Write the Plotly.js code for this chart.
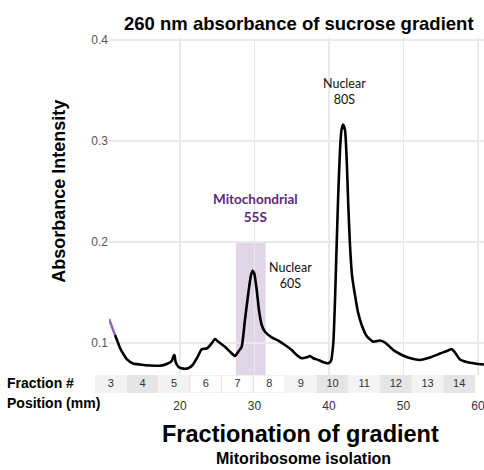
<!DOCTYPE html>
<html><head><meta charset="utf-8">
<script src="https://cdn.plot.ly/plotly-3.0.1.min.js"></script>
<style>html,body{margin:0;padding:0;background:#fff}#chart{width:484px;height:470px}</style>
</head><body><div id="chart"></div>
<script>
// ---- data ----
const leadPositionMm = [10.47, 10.87, 11.28];
const leadAbsorbance = [0.1238, 0.1149, 0.1079];

const positionMm = [11.28, 11.54, 11.95, 12.48, 12.89, 13.69, 14.63, 15.97, 17.32, 18.21, 18.89, 19.13, 19.26, 19.40, 19.77,
  20.44, 21.11, 21.70, 22.38, 22.91, 23.66, 24.26, 24.70, 25.14, 26.04, 26.71, 27.38, 27.83, 28.28, 28.72, 29.17, 29.53,
  29.76, 29.97, 30.30, 30.60, 30.97, 31.41, 32.31, 33.19, 34.09, 34.99, 35.66, 36.34, 37.01, 37.45, 37.89, 38.56, 39.46,
  39.91, 40.27, 40.58, 40.81, 41.03, 41.25, 41.48, 41.68, 41.88, 42.15, 42.38, 42.59, 42.82, 43.09, 43.49, 43.89, 44.39,
  45.06, 45.95, 46.85, 47.52, 48.63, 49.53, 50.60, 52.21, 53.56, 54.90, 56.01, 56.47, 56.91, 57.58, 58.48, 59.60, 60.81];
const absorbance = [0.1079, 0.1030, 0.0950, 0.0881, 0.0837, 0.0797, 0.0787, 0.0777, 0.0775, 0.0792, 0.0822, 0.0871, 0.0881, 0.0815, 0.0765,
  0.0746, 0.0750, 0.0782, 0.0864, 0.0938, 0.0948, 0.0997, 0.1040, 0.1013, 0.0963, 0.0914, 0.0871, 0.0914, 0.0963, 0.1228, 0.1492, 0.1673,
  0.1716, 0.1690, 0.1525, 0.1327, 0.1178, 0.1112, 0.1056, 0.1023, 0.0980, 0.0931, 0.0881, 0.0849, 0.0858, 0.0871, 0.0849, 0.0832, 0.0805,
  0.0799, 0.0822, 0.1000, 0.1426, 0.1970, 0.2485, 0.2911, 0.3109, 0.3163, 0.3109, 0.2812, 0.2366, 0.1970, 0.1673, 0.1475, 0.1307, 0.1178,
  0.1069, 0.1013, 0.1025, 0.1005, 0.0931, 0.0891, 0.0856, 0.0832, 0.0856, 0.0896, 0.0926, 0.0941, 0.0906, 0.0837, 0.0812, 0.0797, 0.0787];

const fractionNumbers = [3, 4, 5, 6, 7, 8, 9, 10, 11, 12, 13, 14];
const xTickValues = [20, 30, 40, 50, 60];
const yTickValues = [0.1, 0.2, 0.3, 0.4];
const yTickLabels = ['0.1', '0.2', '0.3', '0.4'];
const mitoWindowMm = [27.5, 31.5];
const mitoWindowTop = 0.2;

// ---- styles ----
const cellFills = ['#f2f2f2', '#e5e5e5', '#f3f3f3', '#ffffff', '#ffffff', '#ffffff', '#f4f4f4', '#e5e5e5', '#f4f4f4', '#e5e5e5', '#f3f3f3', '#e5e5e5'];
const gridColor = '#e9e9e9';
const sans = 'Liberation Sans, Arial, sans-serif';
const labelFont = 'Lato, sans-serif';

const traces = [
  {x: leadPositionMm, y: leadAbsorbance, type: 'scatter', mode: 'lines', xaxis: 'x', yaxis: 'y',
   line: {color: '#9467bd', width: 2.5}, hoverinfo: 'skip'},
  {x: positionMm, y: absorbance, type: 'scatter', mode: 'lines', xaxis: 'x', yaxis: 'y',
   line: {color: '#000', width: 2.6, shape: 'spline', smoothing: 0.5}, hoverinfo: 'skip'},
  {x: fractionNumbers, y: fractionNumbers.map(() => 0.5), text: fractionNumbers.map(String),
   type: 'scatter', mode: 'text', xaxis: 'x2', yaxis: 'y2',
   textfont: {family: sans, size: 11, color: '#333'}, hoverinfo: 'skip'}
];

const shapes = [
  {type: 'rect', xref: 'x', yref: 'y', x0: mitoWindowMm[0], x1: mitoWindowMm[1], y0: 0, y1: mitoWindowTop,
   fillcolor: 'rgba(120,70,150,0.22)', line: {width: 0}, layer: 'below'}
];
fractionNumbers.forEach((f, i) => {
  const white = cellFills[i] === '#ffffff';
  shapes.push({type: 'rect', xref: 'x2', yref: 'y2', x0: f - 0.5, x1: f + 0.5, y0: 0, y1: 1,
    fillcolor: cellFills[i], line: {width: white ? 1 : 0, color: '#e3e3e3'}, layer: 'below'});
});

const layout = {
  width: 484, height: 470,
  margin: {l: 95, r: 0, t: 38, b: 77, pad: 0},
  paper_bgcolor: '#fff', plot_bgcolor: 'rgba(0,0,0,0)',
  showlegend: false,
  xaxis: {domain: [0.036, 1], range: [10.47, 60.81], anchor: 'y', tickvals: xTickValues,
    showgrid: true, gridcolor: gridColor, gridwidth: 1.5, zeroline: false, showline: false, ticks: '',
    tickfont: {family: sans, size: 12, color: '#333'}, ticklabelstandoff: 22, ticklabeloverflow: 'allow'},
  yaxis: {domain: [0.0507, 1], range: [0.0683, 0.402], anchor: 'x', tickvals: yTickValues, ticktext: yTickLabels,
    showgrid: true, gridcolor: gridColor, gridwidth: 1.5, zeroline: false, showline: false, ticks: '',
    tickfont: {family: sans, size: 12, color: '#555'}},
  xaxis2: {domain: [0, 0.977], range: [2.5, 14.5], anchor: 'y2', visible: false},
  yaxis2: {domain: [0, 0.0507], range: [0, 1], anchor: 'x2', visible: false},
  shapes: shapes,
  annotations: [
    {text: '<b>260 nm absorbance of sucrose gradient</b>', xref: 'paper', yref: 'paper', x: 0.5244, y: 1.042,
     xanchor: 'center', yanchor: 'middle', showarrow: false, font: {family: sans, size: 18.5, color: '#000'}},
    {text: '<b>Absorbance Intensity</b>', xref: 'paper', yref: 'paper', x: -0.093, y: 0.569, textangle: -90,
     xanchor: 'center', yanchor: 'middle', showarrow: false, font: {family: sans, size: 18, color: '#000'}},
    {text: '<b>Fractionation of gradient</b>', xref: 'paper', yref: 'paper', x: 0.528, y: -0.1155,
     xanchor: 'center', yanchor: 'middle', showarrow: false, borderpad: 0, font: {family: sans, size: 23.5, color: '#000'}},
    {text: '<b>Mitoribosome isolation</b>', xref: 'paper', yref: 'paper', x: 0.535, y: -0.1856,
     xanchor: 'center', yanchor: 'middle', showarrow: false, borderpad: 0, font: {family: sans, size: 16, color: '#000'}},
    {text: '<b>Fraction #</b>', xref: 'paper', yref: 'paper', x: -0.2314, y: 0.0282,
     xanchor: 'left', yanchor: 'middle', showarrow: false, font: {family: sans, size: 14, color: '#000'}},
    {text: '<b>Position (mm)</b>', xref: 'paper', yref: 'paper', x: -0.2314, y: -0.0282,
     xanchor: 'left', yanchor: 'middle', showarrow: false, font: {family: sans, size: 14, color: '#000'}},
    {text: '<b>Mitochondrial<br>55S</b>', xref: 'x', yref: 'y', x: 30.2, y: 0.2337,
     xanchor: 'center', yanchor: 'middle', showarrow: false, font: {family: labelFont, size: 13.5, color: '#5c2a7e'}},
    {text: 'Nuclear<br>60S', xref: 'x', yref: 'y', x: 34.77, y: 0.1673,
     xanchor: 'center', yanchor: 'middle', showarrow: false, font: {family: labelFont, size: 12.5, color: '#111'}},
    {text: 'Nuclear<br>80S', xref: 'x', yref: 'y', x: 42.15, y: 0.3495,
     xanchor: 'center', yanchor: 'middle', showarrow: false, font: {family: labelFont, size: 12.5, color: '#111'}}
  ]
};

Plotly.newPlot('chart', traces, layout, {staticPlot: true, displayModeBar: false});
</script>
</body></html>
